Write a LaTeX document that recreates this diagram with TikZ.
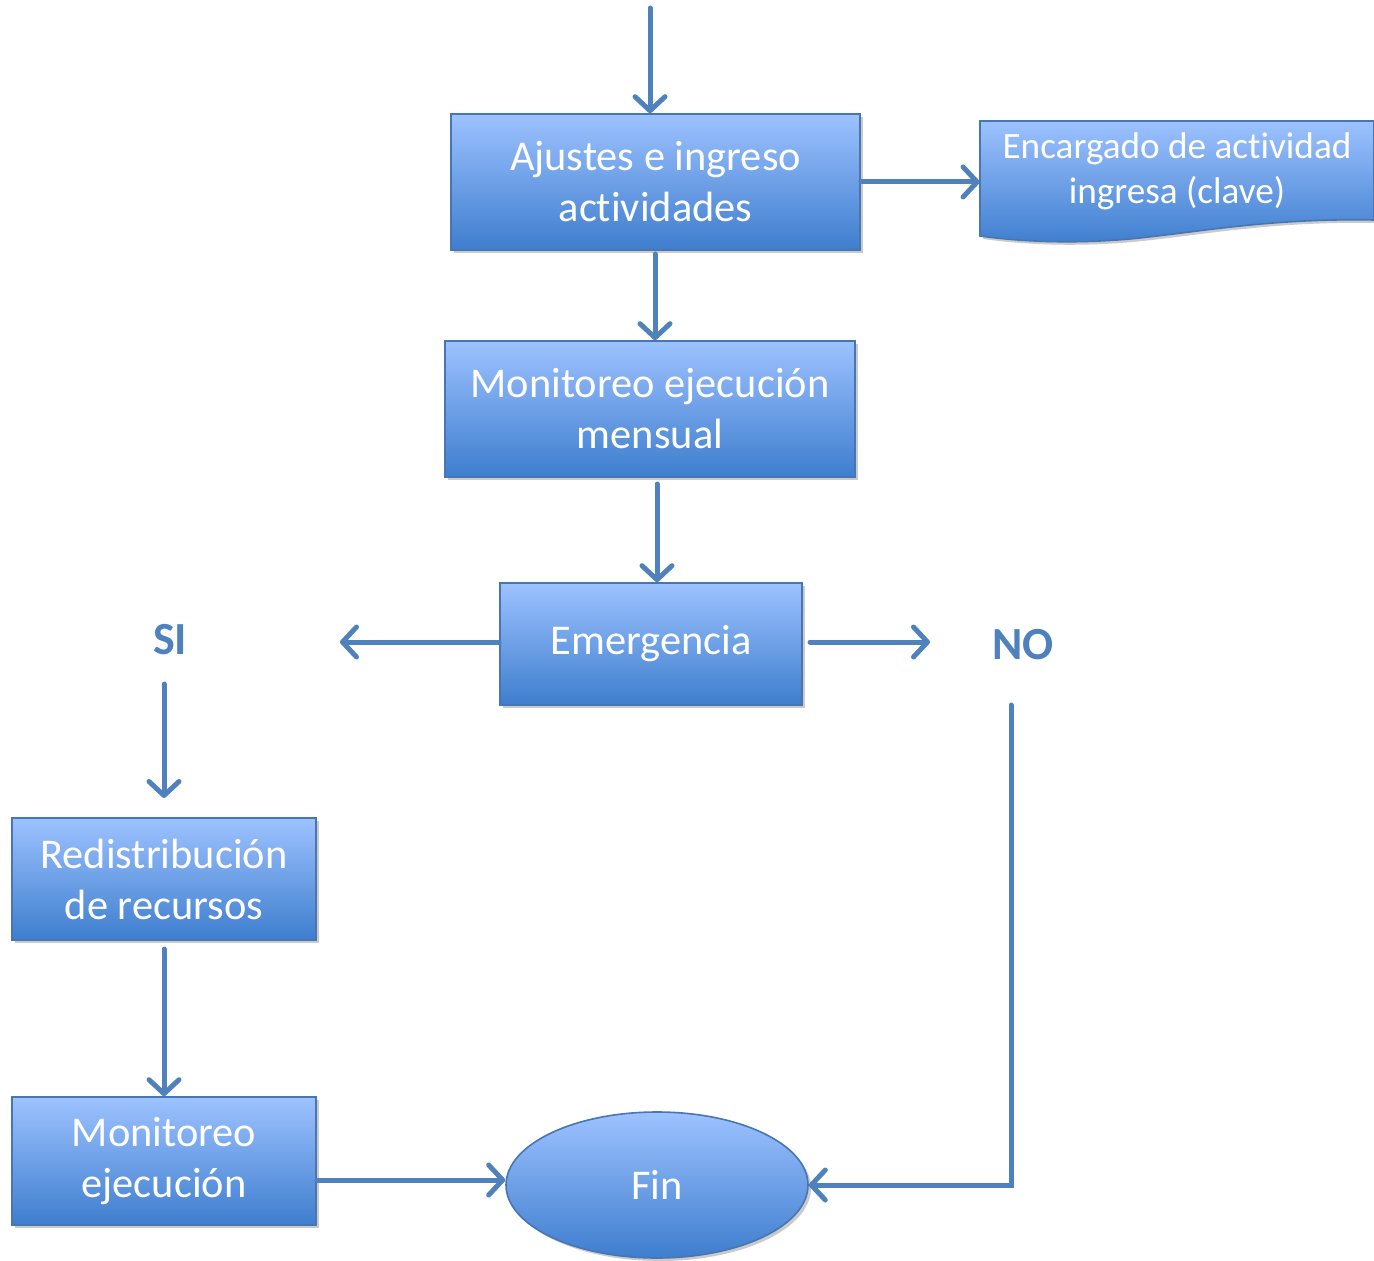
\documentclass[tikz,border=0pt]{standalone}
\usepackage{fontspec}
\setmainfont{Carlito}[Ligatures=NoCommon]
\usetikzlibrary{arrows.meta,shapes.geometric,shadows}
\definecolor{topc}{RGB}{157,194,255}
\definecolor{botc}{RGB}{62,126,206}
\definecolor{bordc}{RGB}{72,118,178}
\definecolor{linec}{RGB}{79,129,189}
\tikzset{
  boxshadow/.style={drop shadow={shadow xshift=1.5pt,shadow yshift=-1.5pt,opacity=0.35,fill=black!60}},
  box/.style={draw=bordc,line width=0.8pt,top color=topc,bottom color=botc,text=white,
    font=\fontsize{21.2}{25.5}\selectfont,align=center,inner sep=0pt,boxshadow},
  lbl/.style={text=linec,font=\fontsize{23}{27}\selectfont\bfseries,inner sep=0pt},
  arr/.style={draw=linec,line width=2.5pt,line cap=round,
    -{Straight Barb[length=7pt,width=15pt,line cap=round,line join=round]}},
  ln/.style={draw=linec,line width=2.5pt,line cap=round,line join=miter}
}
\begin{document}
\begin{tikzpicture}[x=0.5pt,y=-0.5pt]
\useasboundingbox (0,0) rectangle (1374,1261);

% boxes
\node[box,minimum width=204.5pt,minimum height=68pt] (b1) at (655.5,182) {Ajustes e ingreso\\actividades};
\node[box,minimum width=205pt,minimum height=68pt] (b2) at (650,409) {Monitoreo ejecución\\mensual};
\node[box,minimum width=151pt,minimum height=61pt] (b3) at (651,644) {Emergencia};
\node[box,minimum width=152pt,minimum height=61pt] (b4) at (164,879) {Redistribución\\de recursos};
\node[box,minimum width=152pt,minimum height=64pt] (b5) at (164,1161) {Monitoreo\\ejecución};
\node[box,ellipse,minimum width=151pt,minimum height=73pt] (fin) at (657,1185) {Fin};

% document shape
\path[draw=bordc,line width=0.8pt,top color=topc,bottom color=botc,boxshadow]
  (980,121) -- (1374,121) -- (1374,220)
  .. controls (1270,218) and (1200,232) .. (1130,239)
  .. controls (1060,245) and (1010,240) .. (980,236) -- cycle;
\node[text=white,font=\fontsize{18.6}{22.5}\selectfont,align=center,inner sep=0pt,
  minimum width=197pt,minimum height=57pt] (doc) at (1177,171) {Encargado de actividad\\ingresa (clave)};

% labels
\node[lbl] (si) at (170,640) {SI};
\node[lbl] (no) at (1023,645) {NO};

% connectors
\coordinate (start) at (650,8);
\draw[arr] (start) -- (b1.north -| start);
\draw[arr] (b1.east) -- (doc.west |- b1.east);
\draw[arr] (655,254) -- (b2.north -| 655,0);
\draw[arr] (657,484) -- (b3.north -| 657,0);
\coordinate (sip) at (340,642);
\coordinate (nop) at (930,642);
\draw[arr] (b3.west |- sip) -- (sip);
\draw[arr] (810,642) -- (nop);
\coordinate (sistart) at (164,684);
\coordinate (siend) at (164,798);
\draw[arr] (sistart) -- (siend);
\draw[arr] (164,949) -- (b5.north);
\draw[arr] (b5.east |- 0,1180) -- (fin.west |- 0,1180);
\coordinate (nostart) at (1011,705);
\draw[arr] (nostart) |- (fin.east);
\end{tikzpicture}
\end{document}
